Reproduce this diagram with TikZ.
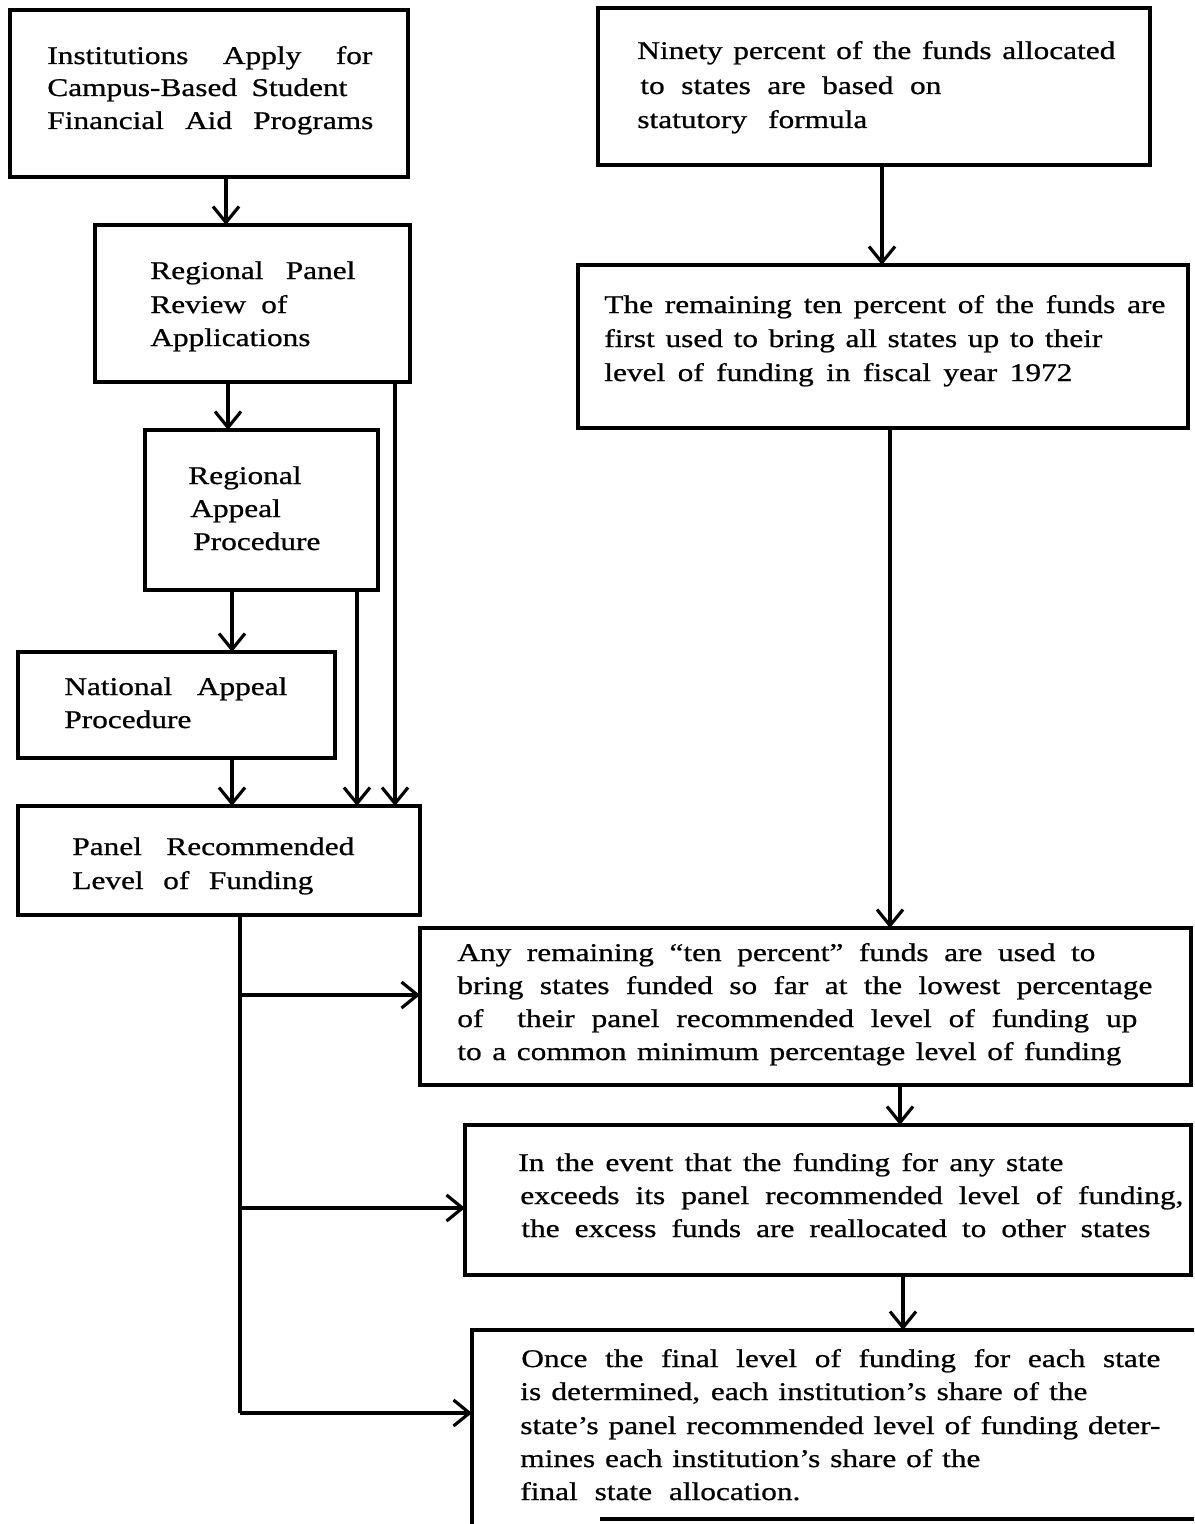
\documentclass[tikz,border=0pt]{standalone}
\usepackage{fontspec}
\setmainfont{Liberation Serif}[FakeStretch=1.23,FakeBold=0.8]
\usetikzlibrary{arrows.meta,fit}
\newlength\pxu
\setlength\pxu{0.02cm}
\newcommand\sline[2]{\makebox[#1\pxu][s]{#2}}
\tikzset{
  boxline/.style={draw=black, line width=2pt},
  frame/.style={boxline, inner sep=0pt, outer sep=0pt},
  hidden/.style={inner sep=0pt, outer sep=0pt},
  txt/.style={anchor=base west, inner sep=0pt, font=\fontsize{14.5}{17}\selectfont},
  conn/.style={draw=black, line width=1.8pt},
  arr/.style={conn, -{Straight Barb[length=0.32cm,width=0.52cm]}}
}
\begin{document}
\begin{tikzpicture}[x=0.02cm,y=-0.02cm]
\useasboundingbox (0,0) rectangle (1194,1524);
% boxes
\node[frame, fit={(10,10) (408,177)}] (b1) {};
\node[frame, fit={(95,225) (410,382)}] (b2) {};
\node[frame, fit={(145,430) (378,590)}] (b3) {};
\node[frame, fit={(18,652) (335,758)}] (b4) {};
\node[frame, fit={(18,806) (420,915)}] (b5) {};
\node[frame, fit={(598,8) (1150,165)}] (b6) {};
\node[frame, fit={(578,265) (1188,428)}] (b7) {};
\node[frame, fit={(420,928) (1191,1085)}] (b8) {};
\node[frame, fit={(465,1125) (1191,1275)}] (b9) {};
\node[hidden, fit={(472,1330) (1194,1524)}] (b10) {};
\draw[boxline] (b10.south west) -- (b10.north west) -- (b10.north east);
\coordinate (bb) at (600,1519);
\draw[boxline] (bb) -- (bb -| b10.east);
% texts
\node[txt] (t1a) at (47,64) {\sline{325}{Institutions Apply for}};
\node[txt] (t1b) at (47,96) {\sline{300}{Campus-Based Student}};
\node[txt] (t1c) at (47,129) {\sline{326}{Financial Aid Programs}};
\node[txt] (t2a) at (150,279) {\sline{205}{Regional Panel}};
\node[txt] (t2b) at (150,313) {\sline{137}{Review of}};
\node[txt] (t2c) at (150,346) {Applications};
\node[txt] (t3a) at (188,484) {Regional};
\node[txt] (t3b) at (190,517) {Appeal};
\node[txt] (t3c) at (193,550) {Procedure};
\node[txt] (t4a) at (64,695) {\sline{223}{National Appeal}};
\node[txt] (t4b) at (64,728) {Procedure};
\node[txt] (t5a) at (72,855) {\sline{282}{Panel Recommended}};
\node[txt] (t5b) at (72,889) {\sline{241}{Level of Funding}};
\node[txt] (t6a) at (637,59) {\sline{478}{Ninety percent of the funds allocated}};
\node[txt] (t6b) at (640,94) {\sline{301}{to states are based on}};
\node[txt] (t6c) at (637,128) {\sline{230}{statutory formula}};
\node[txt] (t7a) at (604,313) {\sline{561}{The remaining ten percent of the funds are}};
\node[txt] (t7b) at (604,347) {\sline{498}{first used to bring all states up to their}};
\node[txt] (t7c) at (604,381) {\sline{468}{level of funding in fiscal year 1972}};
\node[txt] (t8a) at (457,961) {\sline{638}{Any remaining “ten percent” funds are used to}};
\node[txt] (t8b) at (457,994) {\sline{695}{bring states funded so far at the lowest percentage}};
\node[txt] (t8c) at (457,1027) {\sline{680}{of \ their panel recommended level of funding up}};
\node[txt] (t8d) at (457,1060) {\sline{664}{to a common minimum percentage level of funding}};
\node[txt] (t9a) at (518,1171) {\sline{545}{In the event that the funding for any state}};
\node[txt] (t9b) at (520,1204) {\sline{663}{exceeds its panel recommended level of funding,}};
\node[txt] (t9c) at (521,1237) {\sline{629}{the excess funds are reallocated to other states}};
\node[txt] (t10a) at (521,1367) {\sline{639}{Once the final level of funding for each state}};
\node[txt] (t10b) at (520,1400) {\sline{567}{is determined, each institution’s share of the}};
\node[txt] (t10c) at (520,1434) {\sline{640}{state’s panel recommended level of funding deter-}};
\node[txt] (t10d) at (520,1467) {\sline{460}{mines each institution’s share of the}};
\node[txt] (t10e) at (520,1500) {\sline{280}{final state allocation.}};
% connector x positions
\coordinate (x1) at (226,0);
\coordinate (x2) at (228,0);
\coordinate (x3) at (232,0);
\coordinate (x4) at (357,0);
\coordinate (x5) at (395,0);
\coordinate (x6) at (882,0);
\coordinate (x7) at (890,0);
\coordinate (x8) at (900,0);
\coordinate (x9) at (903,0);
\coordinate (sp) at (240,0);
\coordinate (y1) at (0,995);
\coordinate (y2) at (0,1208);
\coordinate (y3) at (0,1413);
% left chain
\draw[arr] (b1.south -| x1) -- (b2.north -| x1);
\draw[arr] (b2.south -| x2) -- (b3.north -| x2);
\draw[arr] (b3.south -| x3) -- (b4.north -| x3);
\draw[arr] (b4.south -| x3) -- (b5.north -| x3);
\draw[arr] (b3.south -| x4) -- (b5.north -| x4);
\draw[arr] (b2.south -| x5) -- (b5.north -| x5);
% right chain
\draw[arr] (b6.south -| x6) -- (b7.north -| x6);
\draw[arr] (b7.south -| x7) -- (b8.north -| x7);
\draw[arr] (b8.south -| x8) -- (b9.north -| x8);
\draw[arr] (b9.south -| x9) -- (b10.north -| x9);
% spine from panel level
\draw[conn] (b5.south -| sp) -- (sp |- y3);
\draw[arr] (sp |- y1) -- (b8.west |- y1);
\draw[arr] (sp |- y2) -- (b9.west |- y2);
\draw[arr] (sp |- y3) -- (b10.west |- y3);
\end{tikzpicture}
\end{document}
